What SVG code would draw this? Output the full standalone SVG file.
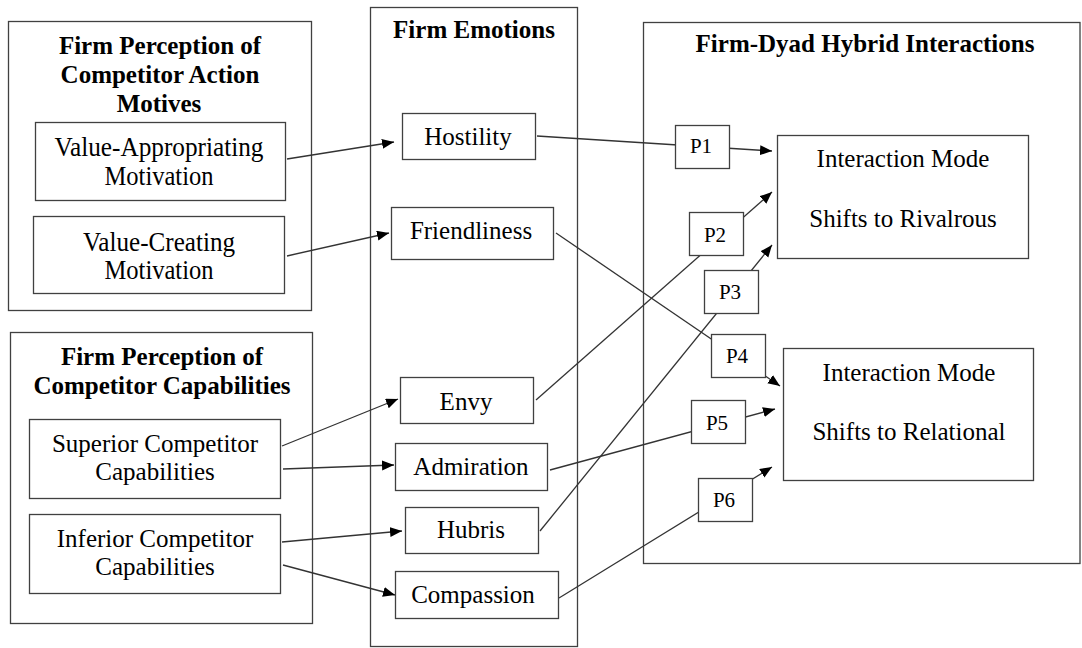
<svg xmlns="http://www.w3.org/2000/svg" width="1082" height="648" viewBox="0 0 1082 648">
<style>
.frame{fill:#fff;stroke:#404040;stroke-width:1.3}
.box{fill:#fff;stroke:#404040;stroke-width:1.3}
.title{font-family:"Liberation Serif","Times New Roman",serif;font-weight:bold;font-size:25px;fill:#000;text-anchor:middle}
.t{font-family:"Liberation Serif","Times New Roman",serif;font-size:25px;fill:#000;text-anchor:middle}
.tl{font-family:"Liberation Serif","Times New Roman",serif;font-size:28px;fill:#000;text-anchor:middle}
.p{font-family:"Liberation Serif","Times New Roman",serif;font-size:21px;fill:#000;text-anchor:middle}
.c{fill:none;stroke:#333;stroke-width:1.3}
</style>
<defs>
<marker id="ah" markerUnits="userSpaceOnUse" markerWidth="13" markerHeight="11" refX="12" refY="5" orient="auto">
<path d="M0,0 L12,5 L0,10 z" fill="#000"/>
</marker>
</defs>
<rect width="1082" height="648" fill="#fff"/>
<g id="frame-motives">
<rect class="frame" x="8.5" y="21.5" width="303" height="289"/>
<text class="title" x="160" y="54">Firm Perception of</text>
<text class="title" x="160" y="83">Competitor Action</text>
<text class="title" x="159" y="112">Motives</text>
</g>
<g id="frame-capabilities">
<rect class="frame" x="10.5" y="332.5" width="302" height="291"/>
<text class="title" x="162" y="365">Firm Perception of</text>
<text class="title" x="162" y="394">Competitor Capabilities</text>
</g>
<g id="frame-emotions">
<rect class="frame" x="370.5" y="7.5" width="207" height="639"/>
<text class="title" x="474" y="38">Firm Emotions</text>
</g>
<g id="frame-dyad">
<rect class="frame" x="643.5" y="22.5" width="436.5" height="541"/>
<text class="title" x="865" y="52">Firm-Dyad Hybrid Interactions</text>
</g>
<g id="connectors">
<line class="c" x1="287" y1="159" x2="394" y2="142" marker-end="url(#ah)"/>
<line class="c" x1="287" y1="256" x2="389" y2="233" marker-end="url(#ah)"/>
<line class="c" x1="282" y1="446" x2="398" y2="399" marker-end="url(#ah)"/>
<line class="c" x1="283" y1="469" x2="394" y2="465" marker-end="url(#ah)"/>
<line class="c" x1="282" y1="542" x2="402" y2="531" marker-end="url(#ah)"/>
<line class="c" x1="283" y1="565" x2="395" y2="595" marker-end="url(#ah)"/>
<line class="c" x1="537" y1="136" x2="772" y2="151" marker-end="url(#ah)"/>
<line class="c" x1="556" y1="233" x2="780" y2="386" marker-end="url(#ah)"/>
<line class="c" x1="536" y1="400" x2="772" y2="192" marker-end="url(#ah)"/>
<line class="c" x1="540" y1="531" x2="772" y2="245" marker-end="url(#ah)"/>
<line class="c" x1="550" y1="470" x2="775" y2="409" marker-end="url(#ah)"/>
<line class="c" x1="559" y1="598" x2="772" y2="467" marker-end="url(#ah)"/>
</g>
<g id="value-appropriating">
<rect class="box" x="35.5" y="122.5" width="250" height="78"/>
<text class="tl" x="159" y="156" textLength="209" lengthAdjust="spacingAndGlyphs">Value-Appropriating</text>
<text class="tl" x="159" y="185" textLength="109" lengthAdjust="spacingAndGlyphs">Motivation</text>
</g>
<g id="value-creating">
<rect class="box" x="33.5" y="216.5" width="251" height="77"/>
<text class="tl" x="159" y="251" textLength="152" lengthAdjust="spacingAndGlyphs">Value-Creating</text>
<text class="tl" x="159" y="279" textLength="109" lengthAdjust="spacingAndGlyphs">Motivation</text>
</g>
<g id="superior">
<rect class="box" x="29.5" y="419.5" width="251" height="79"/>
<text class="t" x="155" y="452">Superior Competitor</text>
<text class="t" x="155" y="480">Capabilities</text>
</g>
<g id="inferior">
<rect class="box" x="29.5" y="514.5" width="251" height="79"/>
<text class="t" x="155" y="547">Inferior Competitor</text>
<text class="t" x="155" y="575">Capabilities</text>
</g>
<g id="hostility">
<rect class="box" x="402.5" y="113.5" width="133" height="46"/>
<text class="t" x="468" y="145">Hostility</text>
</g>
<g id="friendliness">
<rect class="box" x="391.5" y="207.5" width="162" height="52"/>
<text class="t" x="471" y="239">Friendliness</text>
</g>
<g id="envy">
<rect class="box" x="400.5" y="377.5" width="133" height="46"/>
<text class="t" x="466" y="410">Envy</text>
</g>
<g id="admiration">
<rect class="box" x="395.5" y="443.5" width="152" height="47"/>
<text class="t" x="471" y="475">Admiration</text>
</g>
<g id="hubris">
<rect class="box" x="405.5" y="507.5" width="133" height="46"/>
<text class="t" x="471" y="538">Hubris</text>
</g>
<g id="compassion">
<rect class="box" x="395.5" y="571.5" width="163" height="47"/>
<text class="t" x="473" y="603">Compassion</text>
</g>
<g id="rivalrous">
<rect class="box" x="777.5" y="135.5" width="251" height="123"/>
<text class="t" x="903" y="167">Interaction Mode</text>
<text class="t" x="903" y="227">Shifts to Rivalrous</text>
</g>
<g id="relational">
<rect class="box" x="783.5" y="348.5" width="250" height="132"/>
<text class="t" x="909" y="381">Interaction Mode</text>
<text class="t" x="909" y="440">Shifts to Relational</text>
</g>
<g id="p1">
<rect class="box" x="675.5" y="125.5" width="54" height="43"/>
<text class="p" x="701" y="153">P1</text>
</g>
<g id="p2">
<rect class="box" x="689.5" y="212.5" width="54" height="43"/>
<text class="p" x="715" y="242">P2</text>
</g>
<g id="p3">
<rect class="box" x="704.5" y="270.5" width="54" height="43"/>
<text class="p" x="730" y="299">P3</text>
</g>
<g id="p4">
<rect class="box" x="711.5" y="334.5" width="54" height="43"/>
<text class="p" x="737" y="363">P4</text>
</g>
<g id="p5">
<rect class="box" x="691.5" y="400.5" width="54" height="43"/>
<text class="p" x="717" y="430">P5</text>
</g>
<g id="p6">
<rect class="box" x="698.5" y="478.5" width="54" height="43"/>
<text class="p" x="724" y="507">P6</text>
</g>
</svg>
